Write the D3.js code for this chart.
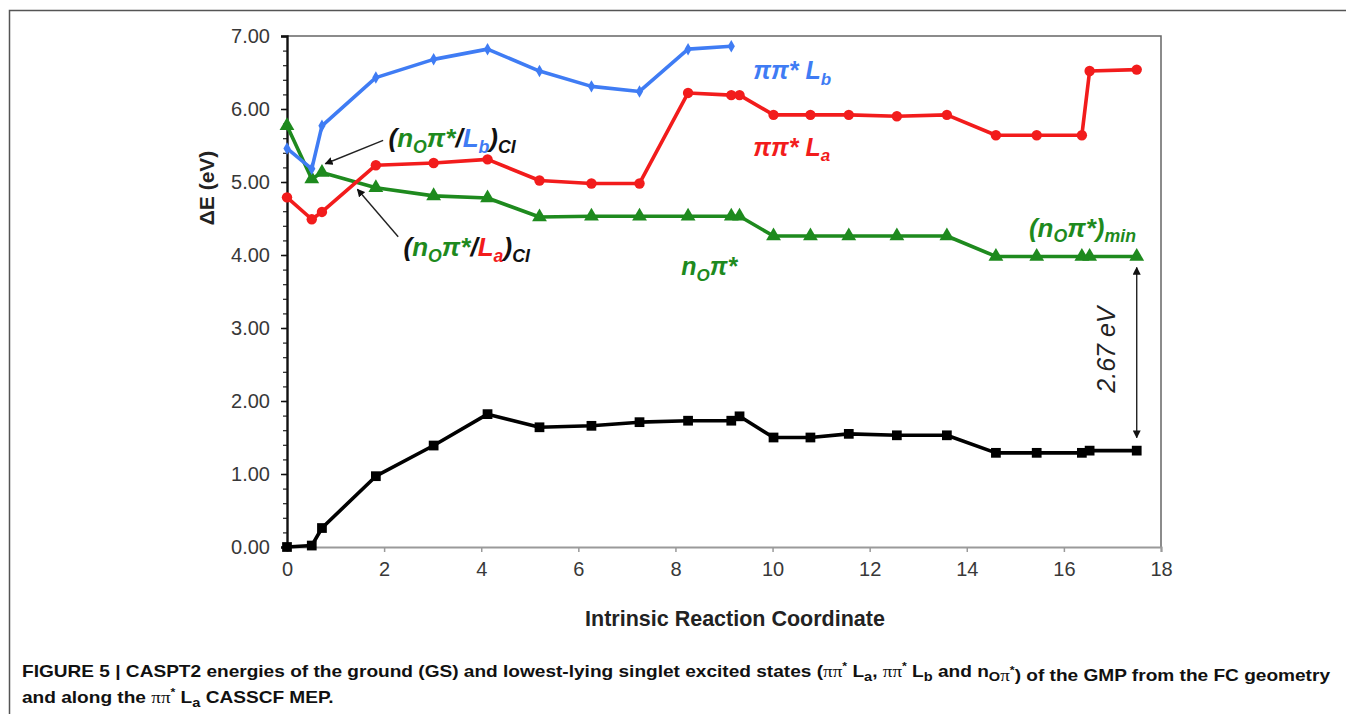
<!DOCTYPE html>
<html>
<head>
<meta charset="utf-8">
<script src="https://cdn.jsdelivr.net/npm/d3@7"></script>
<style>
body { margin: 0; background: #fff; }
svg { display: block; font-family: "Liberation Sans", Arial, sans-serif; }
</style>
</head>
<body>
<script>
// intrinsic reaction coordinate of each MEP point
var irc = [0, 0.51, 0.72, 1.83, 3.02, 4.13, 5.2, 6.27, 7.26, 8.26, 9.15, 9.32,
    10.02, 10.78, 11.57, 12.56, 13.59, 14.6, 15.44, 16.37, 16.53, 17.5];
// CASPT2 energies (eV)
var gs  = [0.00, 0.02, 0.26, 0.97, 1.39, 1.82, 1.64, 1.66, 1.71, 1.73, 1.73, 1.79,
    1.50, 1.50, 1.55, 1.53, 1.53, 1.29, 1.29, 1.29, 1.32, 1.32];
var la  = [4.79, 4.49, 4.59, 5.23, 5.26, 5.31, 5.02, 4.98, 4.98, 6.22, 6.19, 6.19,
    5.92, 5.92, 5.92, 5.90, 5.92, 5.64, 5.64, 5.64, 6.52, 6.54];
var lb  = [5.46, 5.18, 5.77, 6.43, 6.68, 6.82, 6.52, 6.31, 6.24, 6.82, 6.86];
var npi = [5.77, 5.04, 5.13, 4.92, 4.81, 4.78, 4.52, 4.53, 4.53, 4.53, 4.53, 4.53,
    4.26, 4.26, 4.26, 4.26, 4.26, 3.98, 3.98, 3.98, 3.98, 3.98];
var xTicks = [0, 2, 4, 6, 8, 10, 12, 14, 16, 18];
var yTicks = [0, 1, 2, 3, 4, 5, 6, 7];

var W = 1346, H = 714;
var blue = "#3f7cf4", red = "#f21c1c", green = "#1e8a1e";

var x = d3.scaleLinear().domain([0, 18]).range([287, 1161]);
var y = d3.scaleLinear().domain([0, 7]).range([547, 36]);

var svg = d3.select("body").append("svg")
    .attr("width", W)
    .attr("height", H);

var defs = svg.append("defs");
defs.append("marker")
    .attr("id", "head")
    .attr("viewBox", "0 0 10 10")
    .attr("refX", 9).attr("refY", 5)
    .attr("markerWidth", 8).attr("markerHeight", 8)
    .attr("markerUnits", "userSpaceOnUse")
    .attr("orient", "auto-start-reverse")
    .append("path")
    .attr("d", "M0,0L10,5L0,10z")
    .attr("fill", "#111");

// outer figure frame
svg.append("path")
    .attr("d", "M9.5,714V10.5H1346")
    .attr("fill", "none")
    .attr("stroke", "#555")
    .attr("stroke-width", 1.5);

// plot frame top / right
svg.append("path")
    .attr("d", `M${x(0)},${y(7)}H${x(18)}V${y(0)}`)
    .attr("fill", "none")
    .attr("stroke", "#666")
    .attr("stroke-width", 1.5);

// x axis
var xAxis = svg.append("g")
    .attr("transform", `translate(0, ${y(0)})`)
    .call(d3.axisBottom(x).tickValues(xTicks).tickSize(5).tickPadding(10).tickFormat(d3.format("d")));
xAxis.select(".domain").attr("stroke", "#9a9a9a").attr("stroke-width", 2);
xAxis.selectAll(".tick line").attr("stroke", "#9a9a9a").attr("stroke-width", 1.5);
xAxis.selectAll("text").attr("font-size", 20).attr("fill", "#383838").attr("font-family", "Liberation Sans, Arial, sans-serif");

// y axis minor ticks
var yMinor = svg.append("g")
    .attr("transform", `translate(${x(0)}, 0)`)
    .call(d3.axisLeft(y).ticks(35).tickSize(4).tickFormat(""));
yMinor.select(".domain").remove();
yMinor.selectAll(".tick line").attr("stroke", "#222").attr("stroke-width", 1.2);

var yAxis = svg.append("g")
    .attr("transform", `translate(${x(0)}, 0)`)
    .call(d3.axisLeft(y).tickValues(yTicks).tickSize(6).tickPadding(11).tickFormat(d3.format(".2f")));
yAxis.select(".domain").attr("stroke", "#111").attr("stroke-width", 2.4);
yAxis.selectAll(".tick line").attr("stroke", "#111").attr("stroke-width", 1.5);
yAxis.selectAll("text").attr("font-size", 20).attr("fill", "#383838").attr("font-family", "Liberation Sans, Arial, sans-serif");

// axis titles
svg.append("text")
    .attr("transform", `translate(214, 188) rotate(-90)`)
    .attr("text-anchor", "middle")
    .attr("font-size", 21)
    .attr("font-weight", "bold")
    .attr("fill", "#222")
    .text("\u0394E (eV)");

svg.append("text")
    .attr("x", 735)
    .attr("y", 626)
    .attr("text-anchor", "middle")
    .attr("font-size", 21.5)
    .attr("font-weight", "bold")
    .attr("fill", "#222")
    .text("Intrinsic Reaction Coordinate");

// series
var series = [
    {name: "GS", values: gs, color: "#000", shape: d3.symbolSquare, size: 95},
    {name: "npi", values: npi, color: green, shape: d3.symbolTriangle, size: 95},
    {name: "La", values: la, color: red, shape: d3.symbolCircle, size: 85},
    {name: "Lb", values: lb, color: blue, shape: d3.symbolDiamond, size: 45},
];

var line = d3.line()
    .x(d => x(d[0]))
    .y(d => y(d[1]));

series.forEach(function(s) {
    var pts = s.values.map((v, i) => [irc[i], v]);
    var g = svg.append("g").attr("class", "series");
    g.append("path")
        .attr("d", line(pts))
        .attr("fill", "none")
        .attr("stroke", s.color)
        .attr("stroke-width", 3.6)
        .attr("stroke-linejoin", "round");
    g.selectAll("path.pt")
        .data(pts)
        .enter().append("path")
        .attr("class", "pt")
        .attr("transform", d => `translate(${x(d[0])}, ${y(d[1])})`)
        .attr("d", d3.symbol().type(s.shape).size(s.size))
        .attr("fill", s.color);
});

// rich labels: [text, color, sub, back-up]
function richLabel(px, py, size, parts) {
    var t = svg.append("text")
        .attr("x", x(px))
        .attr("y", y(py))
        .attr("font-size", size)
        .attr("font-weight", "bold")
        .attr("font-style", "italic");
    parts.forEach(function(p) {
        var ts = t.append("tspan").attr("fill", p[1]).text(p[0]);
        if (p[2]) ts.attr("font-size", size * 0.68).attr("dy", size * 0.22);
        else if (p[3]) ts.attr("dy", -size * 0.22);
    });
    return t;
}

var k = "#111";
richLabel(9.6, 6.41, 25, [["\u03c0\u03c0* L", blue], ["b", blue, true]]);
richLabel(9.6, 5.36, 25, [["\u03c0\u03c0* L", red], ["a", red, true]]);
richLabel(8.12, 3.72, 25, [["n", green], ["O", green, true], ["\u03c0*", green, false, true]]);
richLabel(15.28, 4.25, 26, [["(", green], ["n", green], ["O", green, true], ["\u03c0*)", green, false, true], ["min", green, true]]);
richLabel(2.09, 5.48, 26, [["(", k], ["n", green], ["O", green, true], ["\u03c0*", green, false, true], ["/", k], ["L", blue], ["b", blue, true], [")", k, false, true], ["CI", k, true]]);
richLabel(2.4, 3.98, 26, [["(", k], ["n", green], ["O", green, true], ["\u03c0*", green, false, true], ["/", k], ["L", red], ["a", red, true], [")", k, false, true], ["CI", k, true]]);

// annotation arrows
var arrows = [
    [[1.98, 5.57], [0.79, 5.25]],
    [[2.29, 4.25], [1.45, 4.90]],
];
arrows.forEach(function(a) {
    svg.append("line")
        .attr("x1", x(a[0][0])).attr("y1", y(a[0][1]))
        .attr("x2", x(a[1][0])).attr("y2", y(a[1][1]))
        .attr("stroke", "#222")
        .attr("stroke-width", 1.4)
        .attr("marker-end", "url(#head)");
});

// gap arrow between n_O pi* minimum and GS
var last = irc.length - 1;
svg.append("line")
    .attr("x1", x(irc[last])).attr("y1", y(npi[last]) + 11)
    .attr("x2", x(irc[last])).attr("y2", y(gs[last]) - 13)
    .attr("stroke", "#222")
    .attr("stroke-width", 1.4)
    .attr("marker-start", "url(#head)")
    .attr("marker-end", "url(#head)");

svg.append("text")
    .attr("transform", `translate(${x(irc[last]) - 22}, ${y((npi[last] + gs[last]) / 2) - 4}) rotate(-90)`)
    .attr("text-anchor", "middle")
    .attr("font-size", 25)
    .attr("font-style", "italic")
    .attr("fill", "#222")
    .text((npi[last] - gs[last] + 0.01).toFixed(2) + " eV");

// caption
var cap1 = svg.append("text")
    .attr("x", 22).attr("y", 677)
    .attr("font-size", 17)
    .attr("font-weight", "bold")
    .attr("fill", "#111");
var serif = "Liberation Serif, Times New Roman, serif";
function capParts(t, parts) {
    parts.forEach(function(p) {
        var ts = t.append("tspan").text(p[0]);
        if (p[1] === "pi") ts.attr("font-family", serif).attr("font-weight", "normal");
        if (p[1] === "sup") ts.attr("font-size", 11).attr("dy", -7);
        if (p[1] === "unsup") ts.attr("dy", 7);
        if (p[1] === "sub") ts.attr("font-size", 13).attr("dy", 4);
        if (p[1] === "unsub") ts.attr("dy", -4);
    });
}
capParts(cap1, [
    ["FIGURE 5 | CASPT2 energies of the ground (GS) and lowest-lying singlet excited states ("],
    ["\u03c0\u03c0", "pi"], ["*", "sup"], [" L", "unsup"], ["a", "sub"], [", ", "unsub"],
    ["\u03c0\u03c0", "pi"], ["*", "sup"], [" L", "unsup"], ["b", "sub"], [" and n", "unsub"],
    ["O", "sub"], ["\u03c0", "pi"], ["*", "sup"], [") of the GMP from the FC geometry", "unsup"],
]);
var cap2 = svg.append("text")
    .attr("x", 22).attr("y", 703)
    .attr("font-size", 17)
    .attr("font-weight", "bold")
    .attr("fill", "#111");
capParts(cap2, [
    ["and along the "], ["\u03c0\u03c0", "pi"], ["*", "sup"], [" L", "unsup"], ["a", "sub"], [" CASSCF MEP.", "unsub"],
]);
// squeeze caption lines to the measured width
var w1 = cap1.node().getComputedTextLength();
var scale = 1308 / w1;
cap1.attr("textLength", 1308).attr("lengthAdjust", "spacingAndGlyphs");
cap2.attr("textLength", cap2.node().getComputedTextLength() * scale).attr("lengthAdjust", "spacingAndGlyphs");
</script>
</body>
</html>
